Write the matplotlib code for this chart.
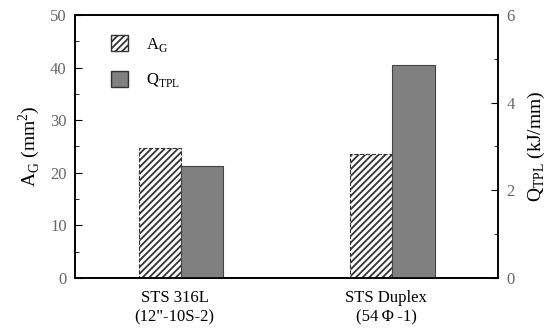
import matplotlib
matplotlib.use("Agg")
from matplotlib import pyplot as plt
from matplotlib.patches import Patch
import numpy as np

plt.rcParams['font.family'] = ['Liberation Serif', 'DejaVu Serif']
plt.rcParams['hatch.linewidth'] = 1.3
plt.rcParams['hatch.color'] = '#3a3a3a'

# materials and measured values
materials = ['STS 316L\n(12"-10S-2)', 'STS Duplex\n(54\u2009\u03a6\u2009-1)']
area_g = [24.7, 23.6]      # A_G, mm^2
q_tpl = [2.55, 4.86]       # Q_TPL, kJ/mm

x = np.arange(len(materials))
w = 0.2

fig = plt.figure(figsize=(5.56, 3.36), dpi=100)
ax = fig.add_axes([0.135, 0.173, 0.761, 0.782])
ax2 = ax.twinx()

ax.bar(x - w / 2, area_g, w, facecolor='white', edgecolor='#333333',
       hatch='/////', linestyle='--', linewidth=0.8, zorder=2)
ax2.bar(x + w / 2, q_tpl, w, facecolor='#808080', edgecolor='#444444',
        linewidth=0.8, zorder=2)

ax.set_xlim(-0.5, 1.5)
ax.set_ylim(0, 50)
ax2.set_ylim(0, 6)
ax.set_yticks(np.arange(0, 51, 10))
ax.set_yticks(np.arange(0, 51, 5), minor=True)
ax2.set_yticks(np.arange(0, 7, 2))
ax2.set_yticks(np.arange(0, 7, 1), minor=True)
ax.set_xticks(x - 0.03)
ax.set_xticklabels(materials, fontsize=12, linespacing=1.25)
ax.tick_params(axis='x', length=0, pad=9)

for a in (ax, ax2):
    a.tick_params(axis='y', which='both', direction='in', labelsize=12,
                  labelcolor='#666666', pad=6)
    a.tick_params(axis='y', which='major', length=5)
    a.tick_params(axis='y', which='minor', length=3)
    for s in a.spines.values():
        s.set_linewidth(1.2)

ax.set_ylabel(r'A$_{\mathregular{G}}$ (mm$^{\mathregular{2}}$)', fontsize=14, labelpad=6)
ax2.set_ylabel(r'Q$_{\mathregular{TPL}}$ (kJ/mm)', fontsize=14, labelpad=8,
               rotation=90)

handles = [Patch(facecolor='white', edgecolor='#333333', hatch='/////'),
           Patch(facecolor='#808080', edgecolor='#333333')]
ax.legend(handles, [r'A$_{\mathregular{G}}$', r'Q$_{\mathregular{TPL}}$'],
          loc='upper left', bbox_to_anchor=(0.05, 0.98), frameon=False,
          fontsize=12, handlelength=1.0, handleheight=1.1, handletextpad=1.1,
          labelspacing=1.0)

fig.savefig('out.png', dpi=100)
